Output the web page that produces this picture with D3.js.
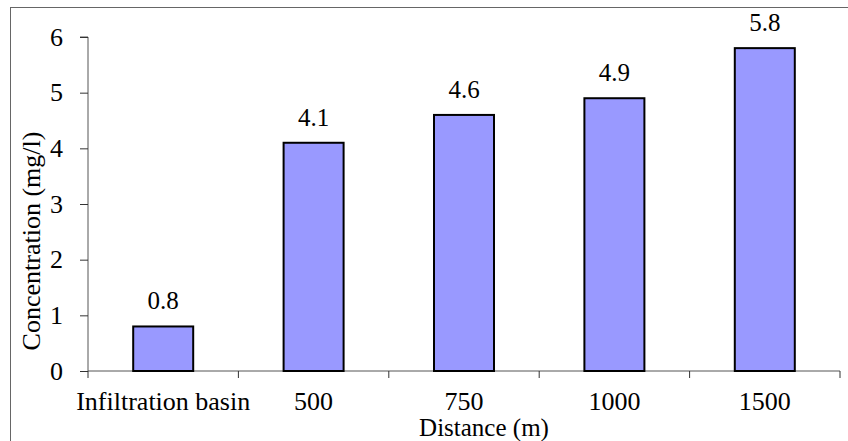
<!DOCTYPE html>
<html>
<head>
<meta charset="utf-8">
<script src="https://cdn.jsdelivr.net/npm/d3@7"></script>
<style>
  body { margin: 0; background: #fff; }
  svg text { font-family: "Liberation Serif", "Times New Roman", serif; fill: #000; }
</style>
</head>
<body>
<script>
"use strict";

var categories = ["Infiltration basin", "500", "750", "1000", "1500"];
var values = [0.8, 4.1, 4.6, 4.9, 5.8];
var yTicks = [0, 1, 2, 3, 4, 5, 6];

function draw_chart() {
    var width = 848;
    var height = 441;
    var serif = "Liberation Serif, Times New Roman, serif";
    var svg = d3.select("body")
        .append("svg")
        .attr("width", width)
        .attr("height", height)
        .attr("font-family", serif);

    // outer chart border (runs off the right / bottom edge)
    svg.append("rect")
        .attr("x", 10.5)
        .attr("y", 7.5)
        .attr("width", 900)
        .attr("height", 500)
        .attr("fill", "none")
        .attr("stroke", "#666")
        .attr("stroke-width", 1);

    var left = 88, right = 840, top = 37, bottom = 371;

    var x = d3.scaleBand()
        .domain(categories)
        .range([left, right]);
    var y = d3.scaleLinear()
        .domain([0, 6])
        .range([bottom, top]);

    var barW = 60;

    // y axis
    var yAxis = svg.append("g")
        .attr("transform", "translate(" + left + ",0)")
        .call(d3.axisLeft(y).tickValues(yTicks).tickSize(8).tickPadding(17).tickFormat(d3.format("d")));
    yAxis.attr("font-family", serif).attr("font-size", 26);
    yAxis.select(".domain").attr("stroke", "#555").attr("d", "M-8," + top + "H0V" + bottom);
    yAxis.selectAll(".tick line").attr("stroke", "#333");
    yAxis.selectAll(".tick text").attr("fill", "#000");

    // x axis
    var xAxis = svg.append("g")
        .attr("transform", "translate(0," + bottom + ")")
        .call(d3.axisBottom(x).tickSize(0).tickPadding(21));
    xAxis.attr("font-family", serif).attr("font-size", 26);
    xAxis.select(".domain").attr("stroke", "#555").attr("d", "M" + left + ",0H" + right);
    xAxis.selectAll(".tick text").attr("fill", "#000");
    // tick marks at band boundaries
    var bounds = categories.map(function(c) { return x(c); }).concat([x(categories[categories.length - 1]) + x.bandwidth()]);
    xAxis.selectAll("line.bound")
        .data(bounds)
        .enter()
        .append("line")
        .attr("class", "bound")
        .attr("x1", function(d) { return d; })
        .attr("x2", function(d) { return d; })
        .attr("y1", 0)
        .attr("y2", 7)
        .attr("stroke", "#333");

    // bars
    svg.selectAll("rect.bar")
        .data(values)
        .enter()
        .append("rect")
        .attr("class", "bar")
        .attr("x", function(d, i) { return x(categories[i]) + x.bandwidth() / 2 - barW / 2; })
        .attr("y", function(d) { return y(d); })
        .attr("width", barW)
        .attr("height", function(d) { return y(0) - y(d); })
        .attr("fill", "#9999ff")
        .attr("stroke", "#000")
        .attr("stroke-width", 2);

    // value labels
    svg.selectAll("text.val")
        .data(values)
        .enter()
        .append("text")
        .attr("class", "val")
        .attr("x", function(d, i) { return x(categories[i]) + x.bandwidth() / 2; })
        .attr("y", function(d) { return y(d) - 17; })
        .attr("text-anchor", "middle")
        .attr("font-size", 25)
        .text(function(d) { return d.toFixed(1); });

    // axis titles
    svg.append("text")
        .attr("x", 484)
        .attr("y", 436)
        .attr("text-anchor", "middle")
        .attr("font-size", 25)
        .text("Distance (m)");

    svg.append("text")
        .attr("transform", "translate(40,241)rotate(-90)")
        .attr("text-anchor", "middle")
        .attr("font-size", 26)
        .text("Concentration (mg/l)");
}

draw_chart();
</script>
</body>
</html>
